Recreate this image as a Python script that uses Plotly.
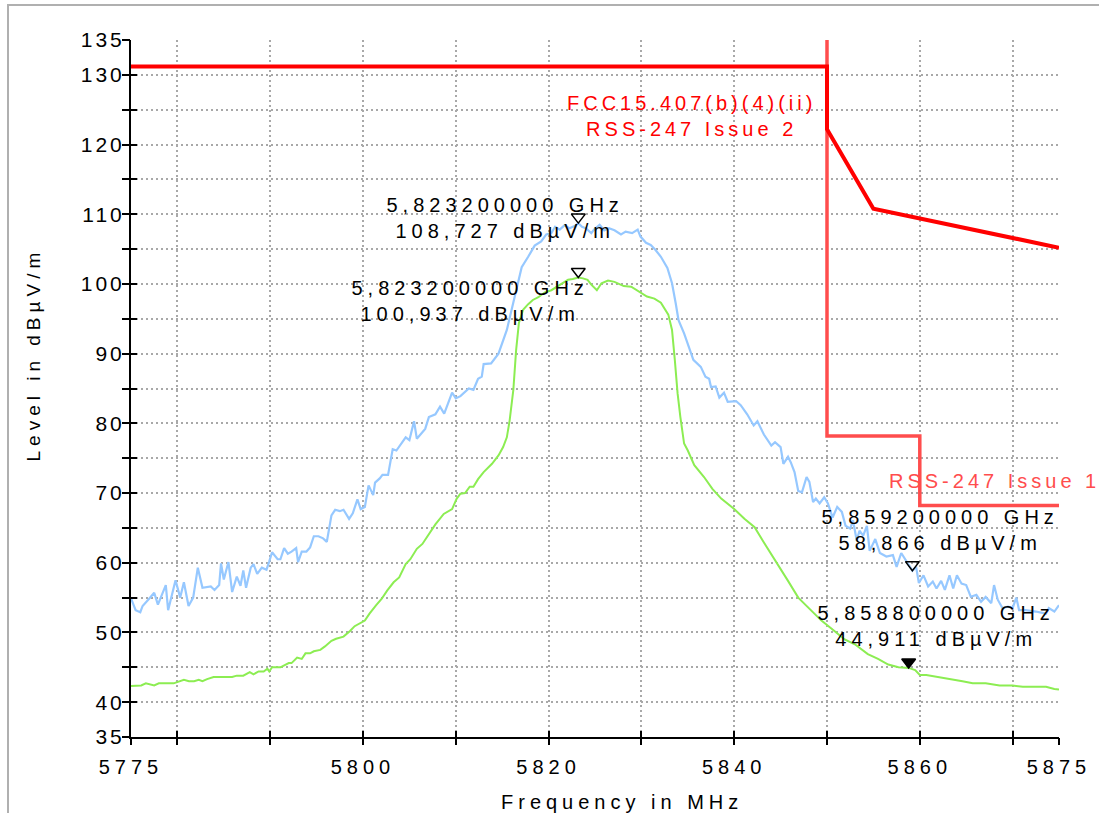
import plotly.graph_objects as go

# ---- measured spectrum: peak detector (blue) ----
FREQ_PK = [5775.0, 5775.5, 5776.0, 5776.25, 5777.0, 5777.5, 5777.9, 5778.75, 5779.0, 5779.8,
           5780.3, 5780.7, 5781.2, 5781.7, 5782.2, 5782.7, 5783.6, 5784.0, 5784.5, 5784.7,
           5785.0, 5785.5, 5785.9, 5786.4, 5786.8, 5787.1, 5787.4, 5787.9, 5788.2, 5788.6,
           5789.1, 5789.6, 5789.9, 5790.2, 5790.8, 5791.1, 5791.5, 5791.9, 5792.3, 5792.8,
           5793.0, 5793.4, 5793.9, 5794.3, 5794.7, 5795.2, 5795.7, 5796.1, 5796.6, 5797.0,
           5797.5, 5797.9, 5798.5, 5798.9, 5799.4, 5799.75, 5800.2, 5800.6, 5801.1, 5801.3,
           5801.8, 5802.1, 5802.7, 5803.2, 5803.6, 5804.0, 5804.6, 5805.0, 5805.5, 5805.8,
           5806.7, 5807.1, 5807.8, 5808.3, 5808.75, 5809.6, 5810.0, 5810.5, 5811.4, 5811.9,
           5812.4, 5812.8, 5813.0, 5813.8, 5814.6, 5815.5, 5816.2, 5817.1, 5817.8, 5818.5,
           5819.2, 5819.75, 5820.3, 5820.7, 5821.2, 5821.7, 5822.25, 5822.8, 5823.2, 5823.6,
           5824.0, 5824.6, 5824.9, 5825.5, 5826.0, 5826.5, 5827.1, 5827.8, 5828.3, 5829.0,
           5829.6, 5829.9, 5830.5, 5831.0, 5831.5, 5832.1, 5832.8, 5833.3, 5833.7, 5834.0,
           5834.6, 5835.1, 5835.6, 5836.4, 5836.9, 5837.3, 5837.5, 5838.0, 5838.4, 5838.9,
           5839.3, 5840.2, 5840.7, 5841.4, 5842.1, 5842.5, 5843.2, 5844.0, 5844.4, 5845.0,
           5845.3, 5845.8, 5846.1, 5846.5, 5846.9, 5847.3, 5847.8, 5848.1, 5848.5, 5848.8,
           5849.2, 5849.7, 5850.1, 5850.6, 5851.1, 5851.6, 5852.0, 5852.5, 5852.8, 5853.2,
           5853.5, 5853.9, 5854.3, 5854.6, 5855.2, 5855.7, 5856.4, 5857.1, 5857.5, 5858.0,
           5858.6, 5859.2, 5859.6, 5859.9, 5860.4, 5860.9, 5861.4, 5861.8, 5862.3, 5862.7,
           5863.2, 5863.6, 5864.0, 5864.5, 5865.0, 5865.5, 5866.1, 5866.6, 5867.1, 5867.7,
           5868.0, 5868.4, 5868.9, 5869.5, 5870.0, 5870.4, 5870.7, 5871.4, 5872.5, 5873.6,
           5873.9, 5874.5, 5875.0]
LEVEL_PK = [54.9, 53.2, 52.9, 53.8, 54.9, 55.7, 54.0, 56.8, 53.2, 57.5,
            55.0, 57.2, 53.8, 55.0, 59.3, 56.4, 56.6, 56.1, 56.8, 59.9,
            57.6, 60.1, 55.8, 58.0, 56.7, 58.9, 56.4, 59.3, 59.8, 58.4,
            59.3, 59.0, 60.2, 61.5, 60.5, 60.5, 62.1, 61.3, 61.6, 62.1,
            60.1, 61.6, 61.6, 62.2, 63.8, 63.8, 63.5, 63.0, 66.8, 67.6,
            67.4, 67.6, 66.3, 67.1, 69.1, 67.7, 68.0, 71.1, 69.7, 71.5,
            72.1, 72.6, 72.6, 76.3, 76.1, 76.8, 78.0, 77.6, 80.3, 77.8,
            79.2, 80.9, 81.3, 82.4, 81.4, 84.4, 83.6, 83.9, 85.0, 84.8,
            86.4, 86.7, 88.5, 88.6, 90.0, 93.4, 97.2, 102.4, 103.9, 105.5,
            106.1, 107.1, 107.3, 108.2, 107.8, 108.4, 108.0, 108.3, 108.727, 108.2,
            108.0, 107.3, 107.8, 108.5, 107.7, 108.0, 107.7, 107.1, 107.5, 107.3,
            107.8, 106.8, 105.9, 105.6, 104.9, 103.9, 102.3, 100.1, 97.2, 94.8,
            92.9, 91.0, 89.1, 88.1, 86.7, 86.4, 85.2, 85.3, 83.7, 84.4,
            83.1, 83.2, 82.6, 81.3, 79.7, 80.3, 78.4, 76.8, 77.3, 76.6,
            74.2, 75.2, 74.4, 73.0, 70.3, 70.1, 72.3, 71.6, 68.7, 69.2,
            68.5, 69.4, 68.5, 66.5, 68.0, 67.3, 65.3, 64.9, 66.1, 63.2,
            64.6, 63.9, 65.3, 61.7, 63.4, 61.4, 60.9, 61.1, 59.4, 61.4,
            60.2, 58.866, 59.4, 57.1, 58.2, 56.6, 57.3, 56.3, 57.4, 56.1,
            58.2, 56.3, 58.2, 57.0, 56.8, 55.1, 55.4, 54.4, 55.1, 54.2,
            56.8, 54.7, 53.5, 53.7, 53.5, 55.0, 53.2, 53.2, 53.0, 52.7,
            53.5, 53.0, 53.9]

# ---- measured spectrum: average detector (green) ----
FREQ_AV = [5775.0, 5776.1, 5776.6, 5777.5, 5778.0, 5779.6, 5780.7, 5781.25, 5781.8, 5782.3,
           5782.7, 5783.2, 5783.9, 5785.9, 5786.4, 5787.1, 5787.8, 5788.2, 5788.75, 5789.3,
           5789.7, 5789.9, 5790.2, 5791.1, 5792.0, 5792.3, 5792.9, 5793.4, 5793.8, 5794.3,
           5794.7, 5795.4, 5795.9, 5796.6, 5797.1, 5797.9, 5798.6, 5799.1, 5800.2, 5800.7,
           5801.4, 5802.0, 5802.6, 5803.3, 5803.9, 5804.6, 5805.1, 5805.8, 5806.4, 5807.1,
           5807.8, 5808.7, 5809.6, 5810.1, 5810.5, 5811.0, 5811.5, 5811.9, 5812.4, 5813.0,
           5813.9, 5814.6, 5815.1, 5815.5, 5815.8, 5816.2, 5816.5, 5816.8, 5817.25, 5817.8,
           5818.3, 5818.9, 5819.6, 5820.3, 5821.2, 5822.1, 5822.6, 5823.2, 5823.7, 5824.2,
           5824.6, 5825.2, 5825.7, 5826.4, 5827.1, 5828.1, 5828.9, 5829.75, 5830.6, 5831.4,
           5832.1, 5832.9, 5833.3, 5833.6, 5833.9, 5834.2, 5834.6, 5835.0, 5835.7, 5836.75,
           5837.65, 5838.6, 5840.0, 5841.1, 5842.2, 5843.2, 5844.7, 5845.8, 5846.9, 5848.3,
           5849.4, 5850.8, 5851.9, 5853.0, 5854.4, 5855.5, 5856.6, 5857.7, 5858.3, 5858.8,
           5859.5, 5860.0, 5860.7, 5862.0, 5863.2, 5864.6, 5865.7, 5867.1, 5868.6, 5870.0,
           5871.1, 5872.5, 5873.6, 5874.5, 5875.0]
LEVEL_AV = [42.3, 42.4, 42.7, 42.4, 42.7, 42.7, 43.2, 43.0, 43.0, 43.2,
            43.0, 43.3, 43.6, 43.6, 43.8, 43.8, 44.3, 44.0, 44.4, 44.4,
            44.8, 44.4, 45.0, 45.0, 45.6, 45.6, 46.4, 46.2, 47.0, 47.0,
            47.3, 47.5, 48.0, 48.8, 49.1, 49.4, 50.2, 50.9, 51.7, 52.7,
            53.9, 54.8, 56.0, 57.2, 57.9, 59.8, 60.5, 62.0, 62.7, 64.1,
            65.5, 67.0, 67.7, 69.2, 69.9, 70.0, 70.9, 70.9, 72.0, 73.0,
            74.2, 75.4, 76.6, 78.0, 80.4, 84.8, 90.5, 94.4, 96.3, 97.1,
            97.7, 98.1, 98.8, 99.1, 99.9, 100.6, 100.7, 100.937, 100.8, 100.6,
            99.9, 99.1, 100.1, 100.5, 100.3, 99.7, 99.6, 98.9, 98.2, 97.9,
            97.3, 95.6, 93.4, 89.1, 84.3, 80.9, 77.1, 76.1, 74.0, 72.3,
            70.6, 69.2, 67.7, 66.3, 65.1, 62.9, 59.8, 57.4, 55.0, 53.1,
            51.7, 50.2, 49.0, 48.3, 46.9, 46.2, 45.4, 45.0, 45.0, 44.911,
            44.6, 43.9, 43.9, 43.6, 43.4, 43.0, 42.7, 42.7, 42.4, 42.4,
            42.2, 42.2, 42.2, 41.9, 41.8]

# ---- limit lines ----
FCC_F = [5775, 5850, 5850, 5855, 5875]
FCC_L = [131.2, 131.2, 122.2, 110.8, 105.2]
RSS1_F = [5850, 5850, 5860, 5860, 5875]
RSS1_L = [135, 78.2, 78.2, 68.2, 68.2]

# ---- markers ----
MARKER_F = [5823.2, 5823.2, 5859.2, 5858.8]
MARKER_L = [108.727, 100.937, 58.866, 44.911]
MARKER_FILLED = [False, False, False, True]
MARKER_LABEL_SHIFT = [(-73, 5), (-108, -24), (28, 41), (27, 42)]

# ---- axes ----
X_RANGE = [5775, 5875]
Y_RANGE = [35, 135]
X_TICKS = [5775, 5780, 5790, 5800, 5810, 5820, 5830, 5840, 5850, 5860, 5870, 5875]
X_LABELS = ["5775", "", "", "5800", "", "5820", "", "5840", "", "5860", "", "5875"]
Y_TICKS = list(range(35, 140, 5))
Y_LABELS = [str(v) if (v % 10 == 0 or v in (35, 135)) else "" for v in Y_TICKS]

W, H = 1099, 813
ML, MR, MT, MB = 131, 40, 40, 76
PW, PH = W - ML - MR, H - MT - MB

FONT = "Liberation Sans, Arial, sans-serif"
BLUE = "#96c8ff"
GREEN = "#8ced52"
RED = "#ff0000"
LIGHT_RED = "#ff4d4d"
GRID = "#a8a8a8"

MARKER_SIZE = 12
px_per_db = PH / (Y_RANGE[1] - Y_RANGE[0])
tip_offset = (MARKER_SIZE / 2) / px_per_db  # triangle tip sits on the trace value

fig = go.Figure()

fig.add_trace(go.Scatter(x=FREQ_PK, y=LEVEL_PK, mode="lines",
                         line=dict(color=BLUE, width=2.2), showlegend=False, hoverinfo="skip"))
fig.add_trace(go.Scatter(x=FREQ_AV, y=LEVEL_AV, mode="lines",
                         line=dict(color=GREEN, width=2), showlegend=False, hoverinfo="skip"))
fig.add_trace(go.Scatter(x=RSS1_F, y=RSS1_L, mode="lines",
                         line=dict(color=LIGHT_RED, width=3.5), showlegend=False, hoverinfo="skip"))
fig.add_trace(go.Scatter(x=FCC_F, y=FCC_L, mode="lines",
                         line=dict(color=RED, width=4), showlegend=False, hoverinfo="skip"))

for f, v, filled in zip(MARKER_F, MARKER_L, MARKER_FILLED):
    fig.add_trace(go.Scatter(
        x=[f], y=[v + tip_offset], mode="markers", showlegend=False, hoverinfo="skip",
        marker=dict(symbol="triangle-down" if filled else "triangle-down-open",
                    size=MARKER_SIZE, color="black", line=dict(color="black", width=1.5)),
        cliponaxis=False))

# overlay axes carry the outward half of the crossing tick marks
fig.add_trace(go.Scatter(x=[], y=[], xaxis="x2", yaxis="y2", showlegend=False))

annotations = []
for f, v, (dx, dy) in zip(MARKER_F, MARKER_L, MARKER_LABEL_SHIFT):
    ghz = f"{f / 1000:.9f}".replace(".", ",")
    lvl = f"{v:.3f}".replace(".", ",")
    annotations.append(dict(
        x=f, y=v, xref="x", yref="y", xshift=dx, yshift=dy,
        text=f"{ghz} GHz<br>{lvl} dBµV/m", showarrow=False,
        xanchor="center", yanchor="middle", align="center",
        font=dict(family=FONT, size=20, color="black")))

annotations.append(dict(
    x=FCC_F[2], y=FCC_L[2], xref="x", yref="y", xshift=-136, yshift=13,
    text="FCC15.407(b)(4)(ii)<br>RSS-247 Issue 2", showarrow=False,
    xanchor="center", yanchor="middle", align="center",
    font=dict(family=FONT, size=20, color=RED)))
annotations.append(dict(
    x=RSS1_F[2], y=RSS1_L[3], xref="x", yref="y", xshift=75, yshift=25,
    text="RSS-247 Issue 1", showarrow=False,
    xanchor="center", yanchor="middle", align="center",
    font=dict(family=FONT, size=20, color=LIGHT_RED)))

annotations.append(dict(
    x=(33 - ML) / PW, y=(H - MB - 355) / PH, xref="paper", yref="paper",
    text="Level in dBµV/m", showarrow=False, textangle=-90,
    xanchor="center", yanchor="middle",
    font=dict(family=FONT, size=19, color="black")))
annotations.append(dict(
    x=(622 - ML) / PW, y=(H - MB - 802) / PH, xref="paper", yref="paper",
    text="Frequency in MHz", showarrow=False,
    xanchor="center", yanchor="middle",
    font=dict(family=FONT, size=20, color="black")))

axis_common = dict(showline=True, linecolor="black", linewidth=2, zeroline=False,
                   showgrid=True, gridcolor=GRID, gridwidth=2, griddash="2px,3px",
                   ticks="inside", ticklen=6, tickwidth=2, tickcolor="black",
                   tickmode="array", fixedrange=True)

fig.update_layout(
    width=W, height=H,
    margin=dict(l=ML, r=MR, t=MT, b=MB, pad=0),
    paper_bgcolor="white", plot_bgcolor="white",
    xaxis=dict(range=X_RANGE, tickvals=X_TICKS, ticktext=X_LABELS,
               tickfont=dict(family=FONT, size=20, color="black"),
               ticklabelstandoff=11, **axis_common),
    yaxis=dict(range=Y_RANGE, tickvals=Y_TICKS, ticktext=Y_LABELS,
               tickfont=dict(family=FONT, size=21, color="black"),
               ticklabelstandoff=0, **axis_common),
    xaxis2=dict(range=X_RANGE, overlaying="x", anchor="y", side="bottom",
                tickmode="array", tickvals=X_TICKS, showticklabels=False,
                ticks="outside", ticklen=7, tickwidth=2, tickcolor="black",
                showgrid=False, showline=False, zeroline=False, fixedrange=True),
    yaxis2=dict(range=Y_RANGE, overlaying="y", anchor="x", side="left",
                tickmode="array", tickvals=Y_TICKS, showticklabels=False,
                ticks="outside", ticklen=8, tickwidth=2, tickcolor="black",
                showgrid=False, showline=False, zeroline=False, fixedrange=True),
    annotations=annotations,
    shapes=[dict(type="rect", xref="paper", yref="paper",
                 x0=(8 - ML) / PW, x1=(W + 20 - ML) / PW,
                 y0=(H - MB - (H + 20)) / PH, y1=(H - MB - 5) / PH,
                 line=dict(color="#b0b0b0", width=2), fillcolor="rgba(0,0,0,0)", layer="below")],
    showlegend=False,
)

letter_css = (".xtick text,.annotation-text{letter-spacing:5px}"
              ".ytick text{letter-spacing:3px}"
              ".annotation[data-index='4'] text,.annotation[data-index='5'] text{letter-spacing:4px}")
post = ("var s=document.createElement('style');s.textContent=\"" + letter_css + "\";"
        "document.head.appendChild(s);document.body.style.margin='0';")

fig.write_html("out.html", config={"displayModeBar": False}, post_script=post)
